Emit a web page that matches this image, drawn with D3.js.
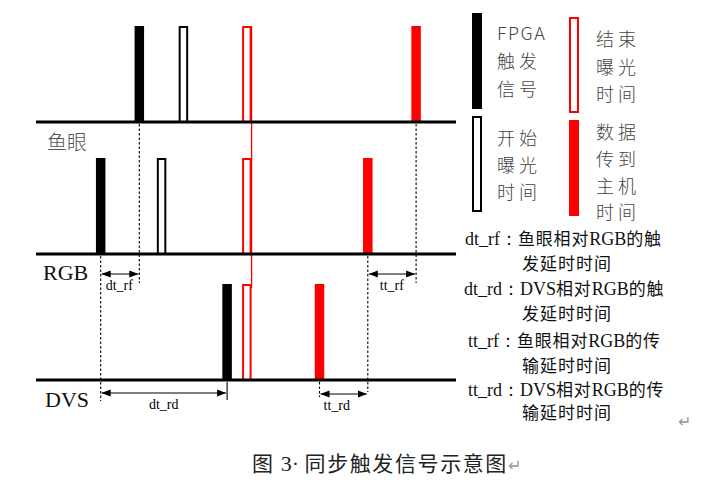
<!DOCTYPE html>
<html><head><meta charset="utf-8">
<script src="https://cdn.jsdelivr.net/npm/d3@7/dist/d3.min.js"></script>
<style>
body{margin:0;background:#fff;}
svg{display:block;}
</style></head>
<body>
<svg id="c" width="717" height="488"></svg>
<script>
// ---------- data ----------
const rows = ["鱼眼", "RGB", "DVS"];
// pulse times (arbitrary time units) per row
const pulseRows   = ["鱼眼","鱼眼","鱼眼","鱼眼","RGB","RGB","RGB","RGB","DVS","DVS","DVS"];
const pulseTypes  = ["trigger","expStart","expEnd","transfer","trigger","expStart","expEnd","transfer","trigger","expEnd","transfer"];
const pulseTimes  = [24.6, 35.1, 50.2, 90.5, 15.4, 29.9, 50.2, 79.0, 45.5, 50.2, 67.5];
const legendTypes = ["trigger","expStart","expEnd","transfer"];
const legendLabels = [["FPGA","触发","信号"],["开始","曝光","时间"],["结束","曝光","时间"],["数据","传到","主机","时间"]];
const measureNames = ["dt_rf","tt_rf","dt_rd","tt_rd"];
const notes = [
  ["dt_rf：","鱼眼相对","RGB","的触","发延时时间"],
  ["dt_rd：","DVS","相对","RGB","的触","发延时时间"],
  ["tt_rf：","鱼眼相对","RGB","的传","输延时时间"],
  ["tt_rd：","DVS","相对","RGB","的传","输延时时间"]
];
const captionParts = ["图 ", "3· ", "同步触发信号示意图"];

// ---------- helpers ----------
const svg = d3.select("#c");
const serif = "'Liberation Serif','Times New Roman',serif";
const cjk = "'Noto Sans CJK SC','Noto Sans',sans-serif";
const x = d3.scaleLinear().domain([0, 100]).range([36, 456]);
const yBase = d3.scaleOrdinal().domain(rows).range([122, 254, 380]);
const amp = d3.scaleLinear().domain([0, 1]).range([0, 96]);
const BW = 9.5;
const style = {
  trigger:{fill:"#000",stroke:"#000"},
  expStart:{fill:"#fff",stroke:"#000"},
  expEnd:{fill:"#fff",stroke:"#f00"},
  transfer:{fill:"#f00",stroke:"#f00"}
};
const pulses = pulseTimes.map((t,i)=>({row:pulseRows[i],type:pulseTypes[i],t}));
const P = (row,type)=>pulses.find(p=>p.row===row&&p.type===type);

svg.append("defs").append("marker").attr("id","ah").attr("viewBox","0 0 10 10")
  .attr("refX",10).attr("refY",5).attr("markerWidth",9).attr("markerHeight",9)
  .attr("markerUnits","userSpaceOnUse").attr("orient","auto-start-reverse")
  .append("path").attr("d","M0,1 L10,5 L0,9 Z").attr("fill","#000");

// red vertical line through exposure end
const endT = P("鱼眼","expEnd").t;
svg.append("line").attr("x1",x(endT)+BW/2).attr("x2",x(endT)+BW/2)
  .attr("y1",yBase("鱼眼")-amp(1)).attr("y2",yBase("DVS")-amp(1)+4)
  .attr("stroke","#f00").attr("stroke-width",1.3);

// pulses
const isOpen = t=>t==="expStart"||t==="expEnd";
svg.selectAll("rect.p").data(pulses).join("rect").attr("class","p")
  .attr("x",d=>x(d.t)-BW/2+(isOpen(d.type)?1:0))
  .attr("width",d=>isOpen(d.type)?BW-2:BW)
  .attr("y",d=>yBase(d.row)-amp(1)+(isOpen(d.type)?1:0))
  .attr("height",d=>amp(1)-(isOpen(d.type)?1:0))
  .attr("fill",d=>style[d.type].fill).attr("stroke",d=>style[d.type].stroke)
  .attr("stroke-width",d=>isOpen(d.type)?2:0);

// baselines
svg.selectAll("line.base").data(rows).join("line").attr("class","base")
  .attr("x1",x(0)).attr("x2",x(100)).attr("y1",d=>yBase(d)).attr("y2",d=>yBase(d))
  .attr("stroke","#000").attr("stroke-width",3);

// row labels
const lbl = svg.append("g");
lbl.append("text").attr("x",47).attr("y",yBase("鱼眼")+28).text("鱼眼")
  .attr("font-family",cjk).attr("font-size",20).attr("font-weight",300).attr("fill","#555");
lbl.append("text").attr("x",43).attr("y",yBase("RGB")+26).text("RGB")
  .attr("font-family",serif).attr("font-size",22).attr("fill","#111");
lbl.append("text").attr("x",45).attr("y",yBase("DVS")+27).text("DVS")
  .attr("font-family",serif).attr("font-size",22).attr("fill","#111");

// measurement guides
const measures = [
  {name:measureNames[0], a:P("RGB","trigger"), b:P("鱼眼","trigger"), y:274},
  {name:measureNames[1], a:P("RGB","transfer"), b:P("鱼眼","transfer"), y:274},
  {name:measureNames[2], a:P("RGB","trigger"), b:P("DVS","trigger"), y:393},
  {name:measureNames[3], a:P("DVS","transfer"), b:P("RGB","transfer"), y:394}
];
const guides = [
  {p:P("鱼眼","trigger"), y2:283, dash:true},
  {p:P("鱼眼","transfer"), y2:283, dash:true},
  {p:P("RGB","trigger"), y2:401, dash:true},
  {p:P("RGB","transfer"), y2:392, dash:true},
  {p:P("DVS","transfer"), y2:397, dash:true},
  {p:P("DVS","trigger"), y2:400, dash:false}
];
svg.selectAll("line.g").data(guides).join("line").attr("class","g")
  .attr("x1",d=>x(d.p.t)).attr("x2",d=>x(d.p.t))
  .attr("y1",d=>yBase(d.p.row)+2).attr("y2",d=>d.y2)
  .attr("stroke","#000").attr("stroke-width",1.1)
  .attr("stroke-dasharray",d=>d.dash?"2.5,2":null);
svg.selectAll("line.m").data(measures).join("line").attr("class","m")
  .attr("x1",d=>x(d.a.t)+1).attr("x2",d=>x(d.b.t)-1).attr("y1",d=>d.y).attr("y2",d=>d.y)
  .attr("stroke","#000").attr("stroke-width",1.2)
  .attr("marker-start","url(#ah)").attr("marker-end","url(#ah)");
const mlx = [d=>x(d.a.t)+5, d=>x(d.a.t)+12, d=>(x(d.a.t)+x(d.b.t))/2-15, d=>x(d.a.t)+4];
svg.selectAll("text.m").data(measures).join("text").attr("class","m")
  .attr("x",(d,i)=>mlx[i](d)).attr("y",d=>d.y+16).text(d=>d.name)
  .attr("font-family",serif).attr("font-size",14).attr("fill","#000");

// legend
const legPos = [[472,13],[472,116],[569,17],[569,120]];
const legTextPos = [[497,[40,68,96]],[497,[145,172,199]],[596,[46,74,101]],[596,[139,166,193,219]]];
legendTypes.forEach((t,i)=>{
  const open = isOpen(t);
  svg.append("rect").attr("x",legPos[i][0]+(open?1:0)).attr("y",legPos[i][1]+(open?1:0))
    .attr("width",open?8:10).attr("height",open?94:96)
    .attr("fill",style[t].fill).attr("stroke",style[t].stroke).attr("stroke-width",open?2:0);
  legendLabels[i].forEach((s,j)=>{
    svg.append("text").attr("x",legTextPos[i][0]).attr("y",legTextPos[i][1][j]).text(s)
      .attr("font-family",cjk).attr("font-size",18).attr("letter-spacing",s==="FPGA"?1.5:4)
      .attr("font-weight",300).attr("fill","#444");
  });
});

// notes
const noteY = [[245,270],[295,320],[347,372],[396,419]];
const noteX = [465,464,468,468];
notes.forEach((n,i)=>{
  const t = svg.append("text").attr("x",noteX[i]).attr("y",noteY[i][0]).attr("font-size",17).attr("fill","#111");
  n.slice(0,-1).forEach(p=>{
    const latin = /^[A-Za-z_]/.test(p);
    t.append("tspan").text(p).attr("font-family",latin?serif:cjk)
      .attr("font-size",latin?18:17).attr("letter-spacing",latin?0:0.8);
  });
  svg.append("text").attr("x",522).attr("y",noteY[i][1]).text(n[n.length-1])
    .attr("font-family",cjk).attr("font-size",17).attr("letter-spacing",1).attr("fill","#111");
});
svg.append("text").attr("x",678).attr("y",427).text("↵").attr("font-family",cjk)
  .attr("font-size",16).attr("fill","#999");

// caption
const cap = svg.append("text").attr("x",252).attr("y",471).attr("font-size",21).attr("fill","#222");
cap.append("tspan").text(captionParts[0]).attr("font-family",cjk).attr("letter-spacing",1.5);
cap.append("tspan").text(captionParts[1]).attr("font-family",serif).attr("font-size",22);
cap.append("tspan").text(captionParts[2]).attr("font-family",cjk).attr("letter-spacing",1.6);
cap.append("tspan").text("↵").attr("font-family",cjk).attr("fill","#999").attr("font-size",16);
</script>
</body></html>
